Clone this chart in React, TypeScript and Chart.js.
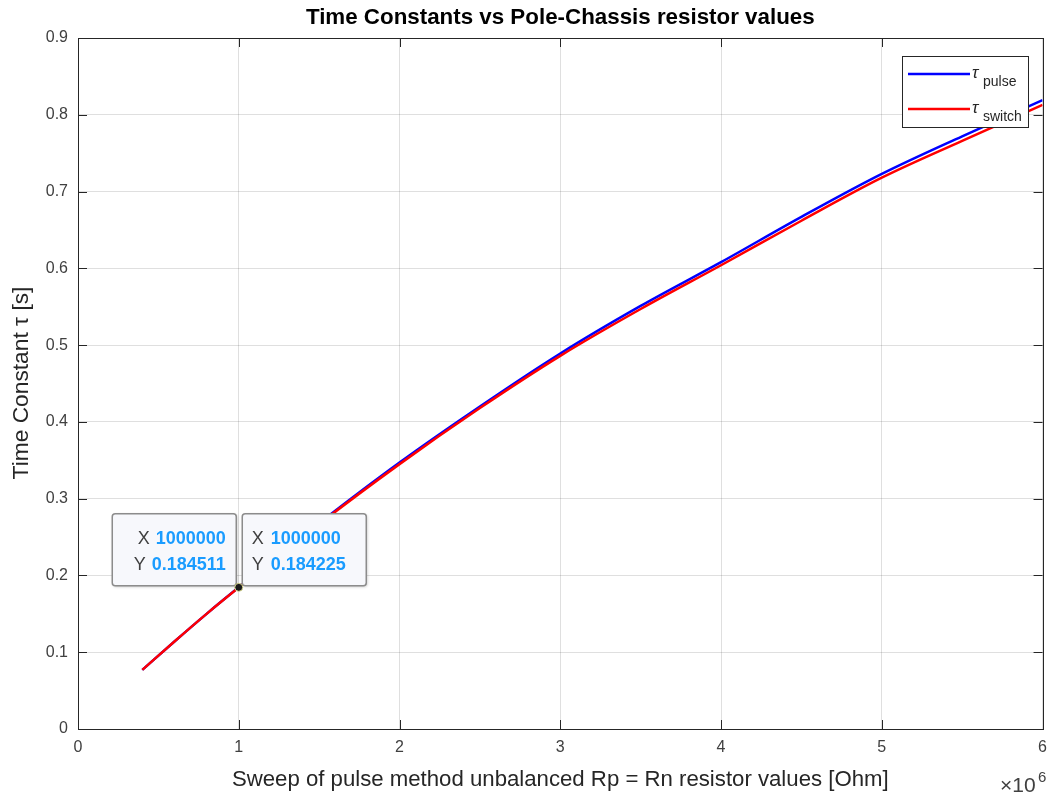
import React, { useEffect, useRef } from "react";
import { Chart, registerables } from "chart.js";

Chart.register(...registerables);

// Sweep values (Ohm)
const sweepR = [400000, 600000, 800000, 1000000, 1500000, 2000000, 2500000, 3000000, 3500000, 4000000, 4500000, 5000000, 5500000, 6000000];
// Time constants (s)
const tauPulse = [0.077, 0.114, 0.150, 0.184511, 0.268, 0.347, 0.420, 0.489, 0.551, 0.608, 0.667, 0.723, 0.772, 0.819];
const tauSwitch = [0.077, 0.114, 0.150, 0.184225, 0.267, 0.345, 0.418, 0.486, 0.547, 0.604, 0.662, 0.718, 0.766, 0.813];

const xTicks = [0, 1, 2, 3, 4, 5, 6];
const yTicks = [0, 0.1, 0.2, 0.3, 0.4, 0.5, 0.6, 0.7, 0.8, 0.9];

const tipX = 1000000;
const tipYPulse = 0.184511;
const tipYSwitch = 0.184225;

const titleText = "Time Constants vs Pole-Chassis resistor values";
const xTitle = "Sweep of pulse method unbalanced Rp = Rn resistor values [Ohm]";
const yTitle = "Time Constant τ [s]";

const FONT = "'Liberation Sans', Arial, Helvetica, sans-serif";
const AXIS = "#262626";
const TEXT = "#404040";

function fitText(ctx: CanvasRenderingContext2D, text: string, cx: number, cy: number, targetW: number, weight: string, color: string) {
  ctx.font = `${weight} 100px ${FONT}`;
  const w = ctx.measureText(text).width;
  const size = (100 * targetW) / w;
  ctx.font = `${weight} ${size}px ${FONT}`;
  ctx.fillStyle = color;
  ctx.textAlign = "center";
  ctx.textBaseline = "middle";
  ctx.fillText(text, cx, cy);
}

function roundRect(ctx: CanvasRenderingContext2D, x: number, y: number, w: number, h: number, r: number) {
  ctx.beginPath();
  ctx.moveTo(x + r, y);
  ctx.lineTo(x + w - r, y);
  ctx.quadraticCurveTo(x + w, y, x + w, y + r);
  ctx.lineTo(x + w, y + h - r);
  ctx.quadraticCurveTo(x + w, y + h, x + w - r, y + h);
  ctx.lineTo(x + r, y + h);
  ctx.quadraticCurveTo(x, y + h, x, y + h - r);
  ctx.lineTo(x, y + r);
  ctx.quadraticCurveTo(x, y, x + r, y);
  ctx.closePath();
}

const decorPlugin = {
  id: "decor",
  afterDraw(chart: any) {
    const ctx: CanvasRenderingContext2D = chart.ctx;
    const { left, right, top, bottom } = chart.chartArea;
    const xs = chart.scales.x;
    const ys = chart.scales.y;
    ctx.save();

    // box
    ctx.strokeStyle = AXIS;
    ctx.lineWidth = 1;
    ctx.strokeRect(Math.round(left) + 0.5, Math.round(top) + 0.5, Math.round(right - left), Math.round(bottom - top));

    // inner ticks
    const tl = 9;
    ctx.beginPath();
    xTicks.forEach((t) => {
      const px = Math.round(xs.getPixelForValue(t * 1e6)) + 0.5;
      ctx.moveTo(px, bottom);
      ctx.lineTo(px, bottom - tl);
      ctx.moveTo(px, top);
      ctx.lineTo(px, top + tl);
    });
    yTicks.forEach((t) => {
      const py = Math.round(ys.getPixelForValue(t)) + 0.5;
      ctx.moveTo(left, py);
      ctx.lineTo(left + tl, py);
      ctx.moveTo(right, py);
      ctx.lineTo(right - tl, py);
    });
    ctx.stroke();

    // titles
    fitText(ctx, titleText, (left + right) / 2, 18, 509, "bold", "#000");
    fitText(ctx, xTitle, (left + right) / 2, 780, 657, "normal", AXIS);
    ctx.save();
    ctx.translate(22, 383);
    ctx.rotate(-Math.PI / 2);
    fitText(ctx, yTitle, 0, 0, 193, "normal", AXIS);
    ctx.restore();

    // x10^6
    ctx.fillStyle = TEXT;
    ctx.textAlign = "left";
    ctx.textBaseline = "alphabetic";
    ctx.font = `21px ${FONT}`;
    ctx.fillText("×10", 1000, 792);
    ctx.font = `15px ${FONT}`;
    ctx.fillText("6", 1038, 782);

    // legend
    ctx.fillStyle = "#fff";
    ctx.fillRect(902.5, 56.5, 126, 71);
    ctx.strokeStyle = AXIS;
    ctx.lineWidth = 1;
    ctx.strokeRect(902.5, 56.5, 126, 71);
    const rows = [
      { color: "#0000ff", y: 74, sub: "pulse" },
      { color: "#ff0000", y: 109, sub: "switch" },
    ];
    rows.forEach((r) => {
      ctx.strokeStyle = r.color;
      ctx.lineWidth = 2.5;
      ctx.beginPath();
      ctx.moveTo(908, r.y);
      ctx.lineTo(970, r.y);
      ctx.stroke();
      ctx.fillStyle = "#262626";
      ctx.textAlign = "left";
      ctx.textBaseline = "alphabetic";
      ctx.font = `italic 17px ${FONT}`;
      ctx.fillText("τ", 972, r.y + 4);
      ctx.font = `14px ${FONT}`;
      ctx.fillText(r.sub, 983, r.y + 12);
    });

    // datatips
    const px = xs.getPixelForValue(tipX);
    const py = ys.getPixelForValue(tipYPulse);
    const boxes = [
      { x: px - 127, align: "right", yv: tipYPulse },
      { x: px + 3, align: "left", yv: tipYSwitch },
    ];
    boxes.forEach((b) => {
      const bx = b.x;
      const by = py - 74;
      ctx.save();
      ctx.shadowColor = "rgba(0,0,0,0.25)";
      ctx.shadowBlur = 3;
      ctx.shadowOffsetX = 1;
      ctx.shadowOffsetY = 1;
      roundRect(ctx, bx + 0.5, by + 0.5, 124, 72, 3);
      ctx.fillStyle = "#f7f8fc";
      ctx.fill();
      ctx.restore();
      roundRect(ctx, bx + 0.5, by + 0.5, 124, 72, 3);
      ctx.strokeStyle = "#8c8c8c";
      ctx.lineWidth = 1.5;
      ctx.stroke();

      const lines = [
        { lab: "X", val: String(tipX), cy: py - 48 },
        { lab: "Y", val: b.yv.toFixed(6), cy: py - 22 },
      ];
      ctx.textBaseline = "middle";
      lines.forEach((l) => {
        if (b.align === "right") {
          const rx = px - 13;
          ctx.font = `bold 18px ${FONT}`;
          ctx.textAlign = "right";
          ctx.fillStyle = "#1a9cff";
          ctx.fillText(l.val, rx, l.cy);
          const vw = ctx.measureText(l.val).width;
          ctx.font = `18px ${FONT}`;
          ctx.fillStyle = TEXT;
          ctx.fillText(l.lab, rx - vw - 6, l.cy);
        } else {
          ctx.textAlign = "left";
          ctx.font = `18px ${FONT}`;
          ctx.fillStyle = TEXT;
          ctx.fillText(l.lab, px + 13, l.cy);
          ctx.font = `bold 18px ${FONT}`;
          ctx.fillStyle = "#1a9cff";
          ctx.fillText(l.val, px + 32, l.cy);
        }
      });
    });
    // marker
    ctx.beginPath();
    ctx.arc(px, py, 4, 0, Math.PI * 2);
    ctx.fillStyle = "#1a1a1a";
    ctx.fill();
    ctx.strokeStyle = "#d8d890";
    ctx.lineWidth = 1;
    ctx.stroke();

    ctx.restore();
  },
};

export default function App() {
  const ref = useRef<HTMLCanvasElement>(null);
  useEffect(() => {
    if (!ref.current) return;
    const chart = new Chart(ref.current, {
      type: "line",
      data: {
        datasets: [
          {
            label: "τpulse",
            data: sweepR.map((x, i) => ({ x, y: tauPulse[i] })),
            borderColor: "#0000ff",
            borderWidth: 2.5,
            pointRadius: 0,
            cubicInterpolationMode: "monotone",
            fill: false,
            order: 2,
          },
          {
            label: "τswitch",
            data: sweepR.map((x, i) => ({ x, y: tauSwitch[i] })),
            borderColor: "#ff0000",
            borderWidth: 2.5,
            pointRadius: 0,
            cubicInterpolationMode: "monotone",
            fill: false,
            order: 1,
          },
        ],
      },
      options: {
        responsive: false,
        animation: false,
        layout: { padding: { top: 38, right: 11, left: 0, bottom: 0 } },
        plugins: {
          legend: { display: false },
          tooltip: { enabled: false },
          title: { display: false },
        },
        scales: {
          x: {
            type: "linear",
            min: 0,
            max: 6000000,
            afterBuildTicks: (scale: any) => {
              scale.ticks = xTicks.map((v) => ({ value: v * 1e6 }));
            },
            ticks: {
              callback: (v: any) => String(Number(v) / 1e6),
              font: { family: FONT, size: 16 },
              color: TEXT,
              padding: 9,
              maxRotation: 0,
            },
            grid: { color: "rgba(38,38,38,0.15)", drawTicks: false },
            border: { display: true, color: AXIS },
            afterFit: (scale: any) => {
              scale.height = 65;
            },
          },
          y: {
            type: "linear",
            min: 0,
            max: 0.9,
            afterBuildTicks: (scale: any) => {
              scale.ticks = yTicks.map((v) => ({ value: v }));
            },
            ticks: {
              callback: (v: any) => (Number(v) === 0 ? "0" : Number(v).toFixed(1)),
              font: { family: FONT, size: 16 },
              color: TEXT,
              padding: 10,
            },
            grid: { color: "rgba(38,38,38,0.15)", drawTicks: false },
            border: { display: true, color: AXIS },
            afterFit: (scale: any) => {
              scale.width = 78;
            },
          },
        },
      },
      plugins: [decorPlugin],
    } as any);
    return () => chart.destroy();
  }, []);
  return (
    <div style={{ position: "absolute", left: 0, top: 0, width: 1056, height: 794, background: "#fff" }}>
      <canvas ref={ref} width={1056} height={794} style={{ display: "block" }} />
    </div>
  );
}
